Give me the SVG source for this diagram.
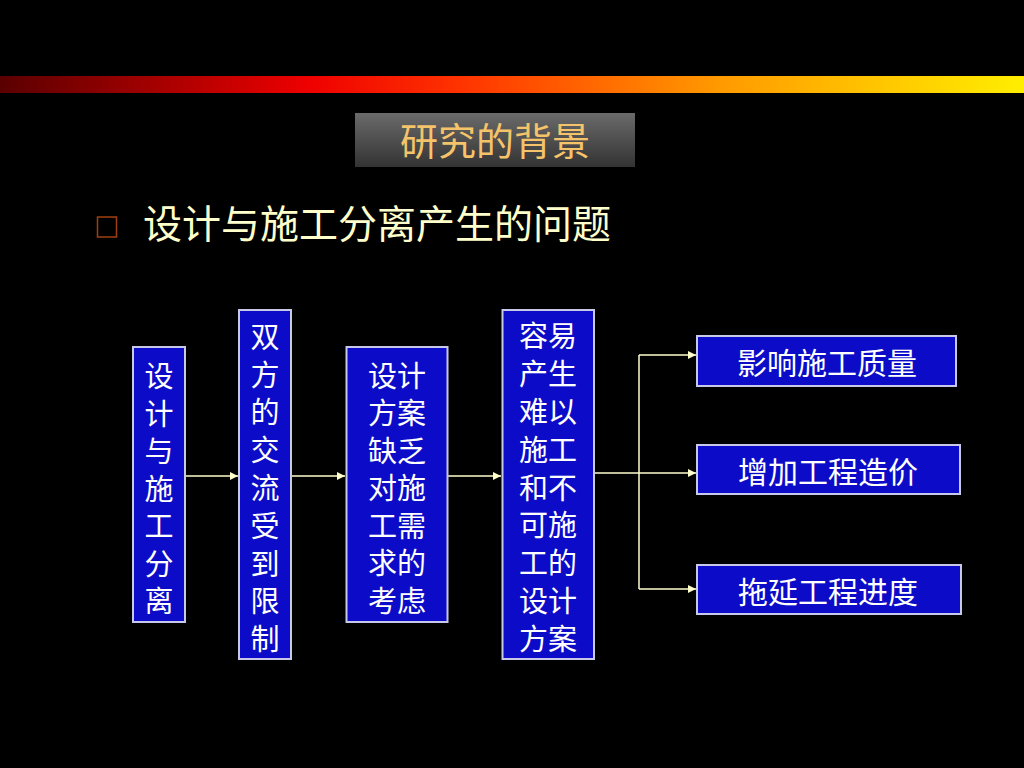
<svg xmlns="http://www.w3.org/2000/svg" width="1024" height="768" viewBox="0 0 1024 768">
<defs>
<linearGradient id="bar" x1="0" y1="0" x2="1" y2="0">
<stop offset="0" stop-color="#5a0000"/>
<stop offset="0.3" stop-color="#ee0000"/>
<stop offset="0.45" stop-color="#ff3300"/>
<stop offset="0.7" stop-color="#ff9900"/>
<stop offset="1" stop-color="#ffee00"/>
</linearGradient>
<linearGradient id="tbox" x1="0" y1="0" x2="0" y2="1">
<stop offset="0" stop-color="#6a6a6a"/>
<stop offset="1" stop-color="#333333"/>
</linearGradient>
<marker id="ah" markerWidth="9" markerHeight="9" refX="8" refY="4.5" orient="auto" markerUnits="userSpaceOnUse">
<path d="M0,0.5 L8,4.5 L0,8.5 Z" fill="#ffffcc"/>
</marker>
</defs>
<style>
text{font-family:"Noto Sans CJK SC","Noto Sans",sans-serif;}
.box{fill:#0c0cc8;stroke:#c8c8e8;stroke-width:2;}
.bt{fill:#ffffff;font-size:29px;text-anchor:middle;font-family:"Liberation Sans","Noto Sans CJK SC",sans-serif;}
.vt{fill:#ffffff;font-size:29px;text-anchor:middle;writing-mode:vertical-rl;}
.rt{fill:#ffffff;font-size:30px;text-anchor:middle;}
.con{stroke:#ffffcc;stroke-width:1.5;fill:none;}
</style>
<rect x="0" y="0" width="1024" height="768" fill="#000000"/>
<rect x="0" y="76" width="1024" height="17" fill="url(#bar)"/>
<g id="title">
<rect x="355" y="113" width="280" height="54" fill="url(#tbox)"/>
<text x="495" y="155" fill="#f5c46a" font-size="38" text-anchor="middle">研究的背景</text>
</g>
<g id="bullet">
<rect x="97.5" y="217" width="19" height="20" fill="none" stroke="#a04010" stroke-width="1.5"/>
<text x="143" y="238" fill="#ffffcc" font-size="39">设计与施工分离产生的问题</text>
</g>
<g id="connectors">
<line class="con" x1="185" y1="476" x2="238" y2="476" marker-end="url(#ah)"/>
<line class="con" x1="291" y1="476" x2="345" y2="476" marker-end="url(#ah)"/>
<line class="con" x1="447" y1="476" x2="501" y2="476" marker-end="url(#ah)"/>
<line class="con" x1="594" y1="473" x2="696" y2="473" marker-end="url(#ah)"/>
<line class="con" x1="639" y1="355" x2="639" y2="589"/>
<line class="con" x1="639" y1="355" x2="696" y2="355" marker-end="url(#ah)"/>
<line class="con" x1="639" y1="589" x2="696" y2="589" marker-end="url(#ah)"/>
</g>
<g id="node1">
<rect class="box" x="133" y="347" width="52" height="275"/>
<text class="vt" x="159" y="492.75" letter-spacing="8.5">设计与施工分离</text>
</g>
<g id="node2">
<rect class="box" x="239" y="310" width="52" height="349"/>
<text class="vt" x="265" y="492.3" letter-spacing="8.8">双方的交流受到限制</text>
</g>
<g id="node3">
<rect class="box" x="346.5" y="347" width="101" height="275"/>
<text class="bt" x="397"><tspan x="397" y="386.5">设计</tspan><tspan x="397" y="424">方案</tspan><tspan x="397" y="461.5">缺乏</tspan><tspan x="397" y="499">对施</tspan><tspan x="397" y="536.5">工需</tspan><tspan x="397" y="574">求的</tspan><tspan x="397" y="611.5">考虑</tspan></text>
</g>
<g id="node4">
<rect class="box" x="502.5" y="310" width="91.5" height="349"/>
<text class="bt" x="548"><tspan x="548" y="347">容易</tspan><tspan x="548" y="385">产生</tspan><tspan x="548" y="423">难以</tspan><tspan x="548" y="460.5">施工</tspan><tspan x="548" y="498.5">和不</tspan><tspan x="548" y="536">可施</tspan><tspan x="548" y="574">工的</tspan><tspan x="548" y="612">设计</tspan><tspan x="548" y="649.5">方案</tspan></text>
</g>
<g id="node5">
<rect class="box" x="697" y="336" width="259" height="50"/>
<text class="rt" x="827" y="374">影响施工质量</text>
</g>
<g id="node6">
<rect class="box" x="697" y="445" width="263" height="49"/>
<text class="rt" x="828" y="482.5">增加工程造价</text>
</g>
<g id="node7">
<rect class="box" x="697" y="565" width="264" height="49"/>
<text class="rt" x="828" y="602.5">拖延工程进度</text>
</g>
</svg>
